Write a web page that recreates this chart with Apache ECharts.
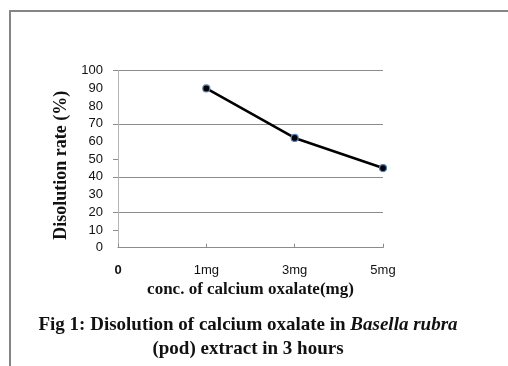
<!DOCTYPE html>
<html>
<head>
<meta charset="utf-8">
<script src="https://cdn.jsdelivr.net/npm/echarts@6/dist/echarts.min.js"></script>
<style>
  html, body { margin: 0; padding: 0; background: #fff; }
  #chart { width: 508px; height: 366px; }
</style>
</head>
<body>
<div id="chart"></div>
<script>
// data
const categories = ['0', '1mg', '3mg', '5mg']
const dissolution = ['-', 90, 62, 45]
const yTicks = [10, 20, 40, 50, 70, 100] // gridlines that show in the scan

const serif = '"Liberation Serif", "Times New Roman", serif'
const sans = '"Liberation Sans", Arial, sans-serif'

const chart = echarts.init(document.getElementById('chart'))

// gridline colours per step, only the visible ones are drawn
const gridColors = []
for (let v = 0; v <= 100; v += 10) {
  gridColors.push(yTicks.indexOf(v) >= 0 ? '#8c8c8c' : 'rgba(0,0,0,0)')
}

const option = {
  backgroundColor: '#fff',
  animation: false,
  title: {
    left: 243,
    top: 308,
    textAlign: 'center',
    text: '{b|Fig 1: Disolution of calcium oxalate in }{bi|Basella rubra}\n{b|(pod) extract in 3 hours}',
    textStyle: {
      rich: {
        b: { fontFamily: serif, fontWeight: 'bold', fontSize: 19, color: '#111', lineHeight: 24 },
        bi: { fontFamily: serif, fontWeight: 'bold', fontStyle: 'italic', fontSize: 19, color: '#111', lineHeight: 24 }
      }
    }
  },
  graphic: [
    { type: 'line', shape: { x1: 10, y1: 10, x2: 10, y2: 366 }, style: { stroke: '#858585', lineWidth: 2 } },
    { type: 'line', shape: { x1: 10, y1: 11, x2: 508, y2: 11 }, style: { stroke: '#858585', lineWidth: 2 } }
  ],
  grid: {
    left: 118,
    right: 125,
    top: 70.7,
    bottom: 118.3,
    containLabel: false
  },
  xAxis: {
    type: 'category',
    data: categories,
    boundaryGap: false,
    name: 'conc. of calcium oxalate(mg)',
    nameLocation: 'middle',
    nameGap: 33,
    nameTextStyle: { fontFamily: serif, fontWeight: 'bold', fontSize: 17, color: '#111' },
    axisLine: { lineStyle: { color: '#8c8c8c', width: 1 } },
    axisTick: { inside: true, length: 4, lineStyle: { color: '#8c8c8c' } },
    axisLabel: {
      margin: 16,
      fontFamily: sans,
      fontSize: 13,
      color: '#111',
      formatter: function (v, i) {
        return i === 0 ? '{z|' + v + '}' : v
      },
      rich: {
        z: { fontFamily: sans, fontSize: 13, fontWeight: 'bold', color: '#111' }
      }
    }
  },
  yAxis: {
    type: 'value',
    min: 0,
    max: 100,
    interval: 10,
    name: 'Disolution rate (%)',
    nameLocation: 'middle',
    nameGap: 44,
    nameTextStyle: { fontFamily: serif, fontWeight: 'bold', fontSize: 18, color: '#111', padding: [0, 12, 0, 0] },
    axisLine: { show: true, lineStyle: { color: '#b4b4b4', width: 1 } },
    axisTick: { show: true, length: 5, customValues: yTicks, lineStyle: { color: '#8c8c8c' } },
    axisLabel: { margin: 15, fontFamily: sans, fontSize: 13, color: '#111' },
    splitLine: { show: true, lineStyle: { color: gridColors, width: 1 } }
  },
  series: [
    {
      type: 'line',
      data: dissolution,
      symbol: 'circle',
      symbolSize: 7,
      lineStyle: { color: '#000', width: 2.5 },
      itemStyle: { color: '#000', borderColor: '#4f81bd', borderWidth: 1.2 }
    }
  ]
}

chart.setOption(option)
</script>
</body>
</html>
